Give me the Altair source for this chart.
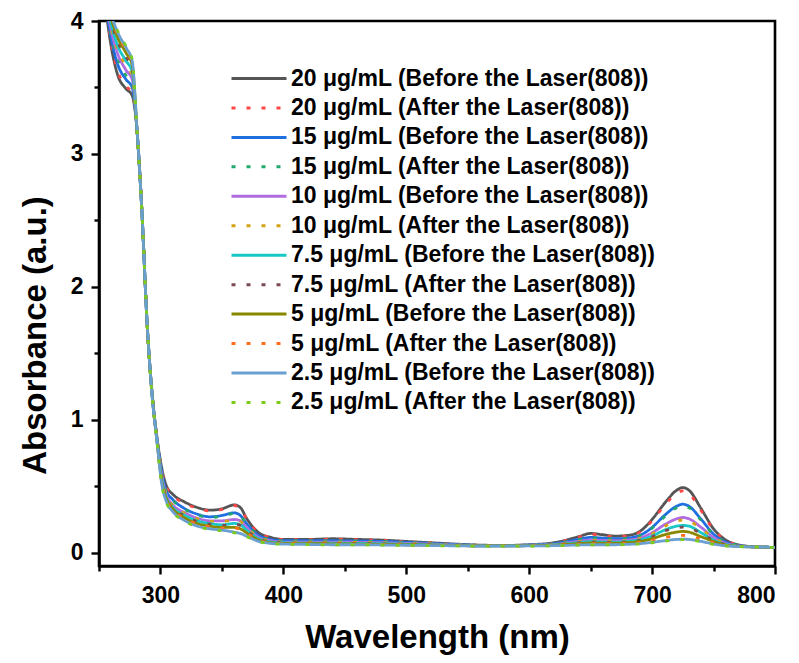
import altair as alt
import pandas as pd

# Wavelength grid (nm)
wavelength = [250, 258, 265, 272, 277, 281, 285, 289, 293, 297, 301, 305, 310, 320, 330, 340, 350,
              360, 365, 370, 380, 390, 400, 420, 440, 460, 480, 500, 520, 540, 560, 580, 600,
              620, 640, 650, 660, 670, 680, 690, 700, 710, 720, 725, 730, 740, 750, 760, 770, 780, 800]

c20_before = [4.60, 3.92, 3.60, 3.49, 3.44, 3.17, 2.55, 1.75, 1.22, 0.88, 0.64, 0.50, 0.44, 0.38, 0.34, 0.32, 0.33,
              0.36, 0.34, 0.26, 0.15, 0.115, 0.10, 0.10, 0.105, 0.10, 0.095, 0.085, 0.075, 0.065, 0.057, 0.055, 0.060,
              0.075, 0.12, 0.145, 0.135, 0.125, 0.13, 0.16, 0.25, 0.37, 0.47, 0.49, 0.47, 0.33, 0.18, 0.095, 0.060, 0.047, 0.040]
c20_after = [4.60, 3.94, 3.63, 3.51, 3.46, 3.17, 2.55, 1.75, 1.22, 0.88, 0.63, 0.49, 0.43, 0.37, 0.335, 0.315, 0.325,
             0.355, 0.335, 0.255, 0.148, 0.113, 0.10, 0.098, 0.102, 0.098, 0.093, 0.083, 0.073, 0.064, 0.056, 0.054, 0.058,
             0.072, 0.115, 0.138, 0.13, 0.12, 0.125, 0.155, 0.24, 0.355, 0.445, 0.465, 0.445, 0.315, 0.172, 0.092, 0.058, 0.046, 0.040]
c15_before = [4.60, 3.97, 3.68, 3.56, 3.50, 3.17, 2.55, 1.75, 1.22, 0.87, 0.61, 0.46, 0.40, 0.33, 0.29, 0.27, 0.28,
              0.30, 0.28, 0.22, 0.13, 0.10, 0.09, 0.09, 0.09, 0.088, 0.085, 0.078, 0.070, 0.062, 0.055, 0.054, 0.058,
              0.068, 0.10, 0.115, 0.11, 0.105, 0.11, 0.13, 0.19, 0.28, 0.35, 0.365, 0.35, 0.25, 0.14, 0.080, 0.055, 0.046, 0.040]
c15_after = [4.60, 3.99, 3.72, 3.59, 3.53, 3.17, 2.55, 1.75, 1.22, 0.87, 0.60, 0.455, 0.395, 0.325, 0.285, 0.265, 0.275,
             0.295, 0.275, 0.217, 0.128, 0.099, 0.089, 0.089, 0.089, 0.087, 0.084, 0.077, 0.069, 0.061, 0.055, 0.054, 0.057,
             0.067, 0.098, 0.112, 0.108, 0.103, 0.108, 0.128, 0.185, 0.27, 0.338, 0.352, 0.338, 0.243, 0.137, 0.079, 0.055, 0.046, 0.040]
c10_before = [4.60, 4.02, 3.76, 3.63, 3.56, 3.17, 2.55, 1.75, 1.21, 0.86, 0.58, 0.43, 0.36, 0.30, 0.26, 0.24, 0.24,
              0.25, 0.24, 0.19, 0.115, 0.09, 0.08, 0.08, 0.08, 0.078, 0.075, 0.070, 0.065, 0.058, 0.053, 0.053, 0.056,
              0.063, 0.085, 0.095, 0.092, 0.09, 0.095, 0.11, 0.15, 0.21, 0.255, 0.265, 0.255, 0.19, 0.115, 0.070, 0.052, 0.045, 0.040]
c10_after = [4.60, 4.04, 3.79, 3.66, 3.59, 3.17, 2.55, 1.75, 1.21, 0.86, 0.575, 0.425, 0.355, 0.295, 0.255, 0.235, 0.235,
             0.245, 0.235, 0.187, 0.113, 0.089, 0.079, 0.079, 0.079, 0.077, 0.074, 0.069, 0.064, 0.057, 0.053, 0.053, 0.055,
             0.062, 0.083, 0.092, 0.089, 0.087, 0.092, 0.106, 0.143, 0.198, 0.238, 0.246, 0.238, 0.18, 0.11, 0.068, 0.051, 0.045, 0.040]
c75_before = [4.60, 4.06, 3.82, 3.70, 3.62, 3.17, 2.55, 1.75, 1.21, 0.86, 0.56, 0.41, 0.34, 0.28, 0.24, 0.22, 0.21,
              0.22, 0.21, 0.17, 0.105, 0.08, 0.075, 0.072, 0.072, 0.070, 0.068, 0.065, 0.060, 0.056, 0.052, 0.052, 0.055,
              0.060, 0.075, 0.083, 0.08, 0.08, 0.085, 0.097, 0.125, 0.17, 0.20, 0.205, 0.20, 0.15, 0.095, 0.062, 0.050, 0.045, 0.040]
c75_after = [4.60, 4.08, 3.85, 3.73, 3.64, 3.17, 2.55, 1.75, 1.21, 0.86, 0.555, 0.405, 0.335, 0.275, 0.235, 0.215, 0.205,
             0.215, 0.205, 0.167, 0.103, 0.079, 0.074, 0.071, 0.071, 0.069, 0.067, 0.064, 0.059, 0.055, 0.052, 0.052, 0.054,
             0.059, 0.073, 0.08, 0.078, 0.078, 0.082, 0.093, 0.12, 0.162, 0.188, 0.192, 0.188, 0.143, 0.092, 0.061, 0.050, 0.045, 0.040]
c5_before = [4.60, 4.10, 3.88, 3.76, 3.67, 3.17, 2.55, 1.75, 1.21, 0.85, 0.54, 0.40, 0.33, 0.26, 0.22, 0.20, 0.19,
             0.19, 0.18, 0.15, 0.095, 0.075, 0.07, 0.068, 0.067, 0.065, 0.063, 0.060, 0.057, 0.054, 0.051, 0.051, 0.053,
             0.057, 0.068, 0.073, 0.072, 0.072, 0.076, 0.085, 0.105, 0.135, 0.155, 0.16, 0.155, 0.12, 0.085, 0.058, 0.048, 0.044, 0.040]
c5_after = [4.60, 4.11, 3.90, 3.78, 3.68, 3.17, 2.55, 1.75, 1.21, 0.85, 0.535, 0.395, 0.325, 0.255, 0.215, 0.195, 0.185,
            0.185, 0.175, 0.147, 0.093, 0.074, 0.069, 0.067, 0.066, 0.064, 0.062, 0.059, 0.056, 0.053, 0.051, 0.051, 0.052,
            0.056, 0.065, 0.069, 0.068, 0.068, 0.071, 0.078, 0.093, 0.113, 0.127, 0.13, 0.127, 0.102, 0.075, 0.054, 0.047, 0.044, 0.040]
c25_before = [4.60, 4.12, 3.92, 3.80, 3.70, 3.17, 2.55, 1.75, 1.20, 0.85, 0.52, 0.38, 0.31, 0.24, 0.20, 0.18, 0.17,
              0.155, 0.145, 0.125, 0.085, 0.07, 0.065, 0.062, 0.06, 0.06, 0.058, 0.056, 0.054, 0.052, 0.050, 0.050, 0.051,
              0.053, 0.058, 0.06, 0.06, 0.06, 0.063, 0.068, 0.078, 0.09, 0.10, 0.102, 0.10, 0.085, 0.065, 0.052, 0.046, 0.044, 0.040]
c25_after = [4.60, 4.13, 3.93, 3.81, 3.71, 3.17, 2.55, 1.75, 1.20, 0.85, 0.515, 0.375, 0.305, 0.235, 0.195, 0.175, 0.165,
             0.15, 0.14, 0.122, 0.083, 0.069, 0.064, 0.061, 0.059, 0.059, 0.057, 0.055, 0.053, 0.051, 0.050, 0.050, 0.050,
             0.052, 0.057, 0.059, 0.059, 0.059, 0.062, 0.066, 0.075, 0.087, 0.096, 0.098, 0.096, 0.082, 0.063, 0.051, 0.046, 0.044, 0.040]

labels = [
    "20 μg/mL (Before the Laser(808))",
    "20 μg/mL (After the Laser(808))",
    "15 μg/mL (Before the Laser(808))",
    "15 μg/mL (After the Laser(808))",
    "10 μg/mL (Before the Laser(808))",
    "10 μg/mL (After the Laser(808))",
    "7.5 μg/mL (Before the Laser(808))",
    "7.5 μg/mL (After the Laser(808))",
    "5 μg/mL (Before the Laser(808))",
    "5 μg/mL (After the Laser(808))",
    "2.5 μg/mL (Before the Laser(808))",
    "2.5 μg/mL (After the Laser(808))",
]
series = [c20_before, c20_after, c15_before, c15_after, c10_before, c10_after,
          c75_before, c75_after, c5_before, c5_after, c25_before, c25_after]
colors = ["#555555", "#ff4545", "#1f6fe0", "#22a86a", "#b06ce0", "#d4a214",
          "#18c8c8", "#7b4a52", "#888800", "#ff6e1c", "#6a9fd2", "#7acc1c"]
solid = [1, 0]
dotted = [4, 11]
dashes = [solid if i % 2 == 0 else dotted for i in range(12)]

rows = []
for lab, vals in zip(labels, series):
    for w, v in zip(wavelength, vals):
        rows.append({"series": lab, "wavelength": w, "absorbance": v})
df = pd.DataFrame(rows)

legend = alt.Legend(
    title=None, orient="none", legendX=131, legendY=43, padding=0,
    symbolType="stroke", symbolSize=3025, symbolStrokeWidth=3,
    clipHeight=29, rowPadding=0.45, labelOffset=3,
    labelFont="Liberation Sans", labelFontWeight="bold", labelFontSize=23,
    labelColor="black", labelLimit=500,
)

x_ticks = [250, 300, 350, 400, 450, 500, 550, 600, 650, 700, 750, 800]
y_ticks = [0, 0.5, 1, 1.5, 2, 2.5, 3, 3.5, 4]

chart = alt.Chart(df).mark_line(clip=True, strokeWidth=2.8, interpolate="monotone", strokeCap="butt").encode(
    x=alt.X("wavelength:Q", title="Wavelength (nm)",
            scale=alt.Scale(domain=[250, 800], nice=False, zero=False),
            axis=alt.Axis(values=x_ticks,
                          labelExpr="datum.value % 100 === 0 && datum.value > 250 ? datum.label : ''",
                          tickSize={"condition": {"test": "datum.value % 100 === 0", "value": 8}, "value": 5},
                          labelPadding=10, titlePadding=14)),
    y=alt.Y("absorbance:Q", title="Absorbance (a.u.)",
            scale=alt.Scale(domain=[-0.1, 4], nice=False, zero=False),
            axis=alt.Axis(values=y_ticks,
                          labelExpr="datum.value % 1 === 0 ? format(datum.value, 'd') : ''",
                          tickSize={"condition": {"test": "datum.value % 1 === 0", "value": 8}, "value": 5},
                          labelPadding=8, titlePadding=18, titleY=314)),
    color=alt.Color("series:N", scale=alt.Scale(domain=labels, range=colors), legend=legend, sort=labels),
    strokeDash=alt.StrokeDash("series:N", scale=alt.Scale(domain=labels, range=dashes), legend=legend, sort=labels),
).properties(
    width=676, height=545,
    autosize=alt.AutoSizeParams(type="none"),
    padding={"left": 91, "top": 13, "right": 14, "bottom": 89},
).configure_view(
    stroke="black", strokeWidth=2.6
).configure_axis(
    grid=False, domainColor="black", domainWidth=2.6, tickColor="black", tickWidth=2.4,
    labelFont="Liberation Sans", labelFontWeight="bold", labelFontSize=23, labelColor="black",
    titleFont="Liberation Sans", titleFontWeight="bold", titleFontSize=33, titleColor="black",
)

chart.save("out.html", embed_options={"renderer": "svg", "actions": False})
